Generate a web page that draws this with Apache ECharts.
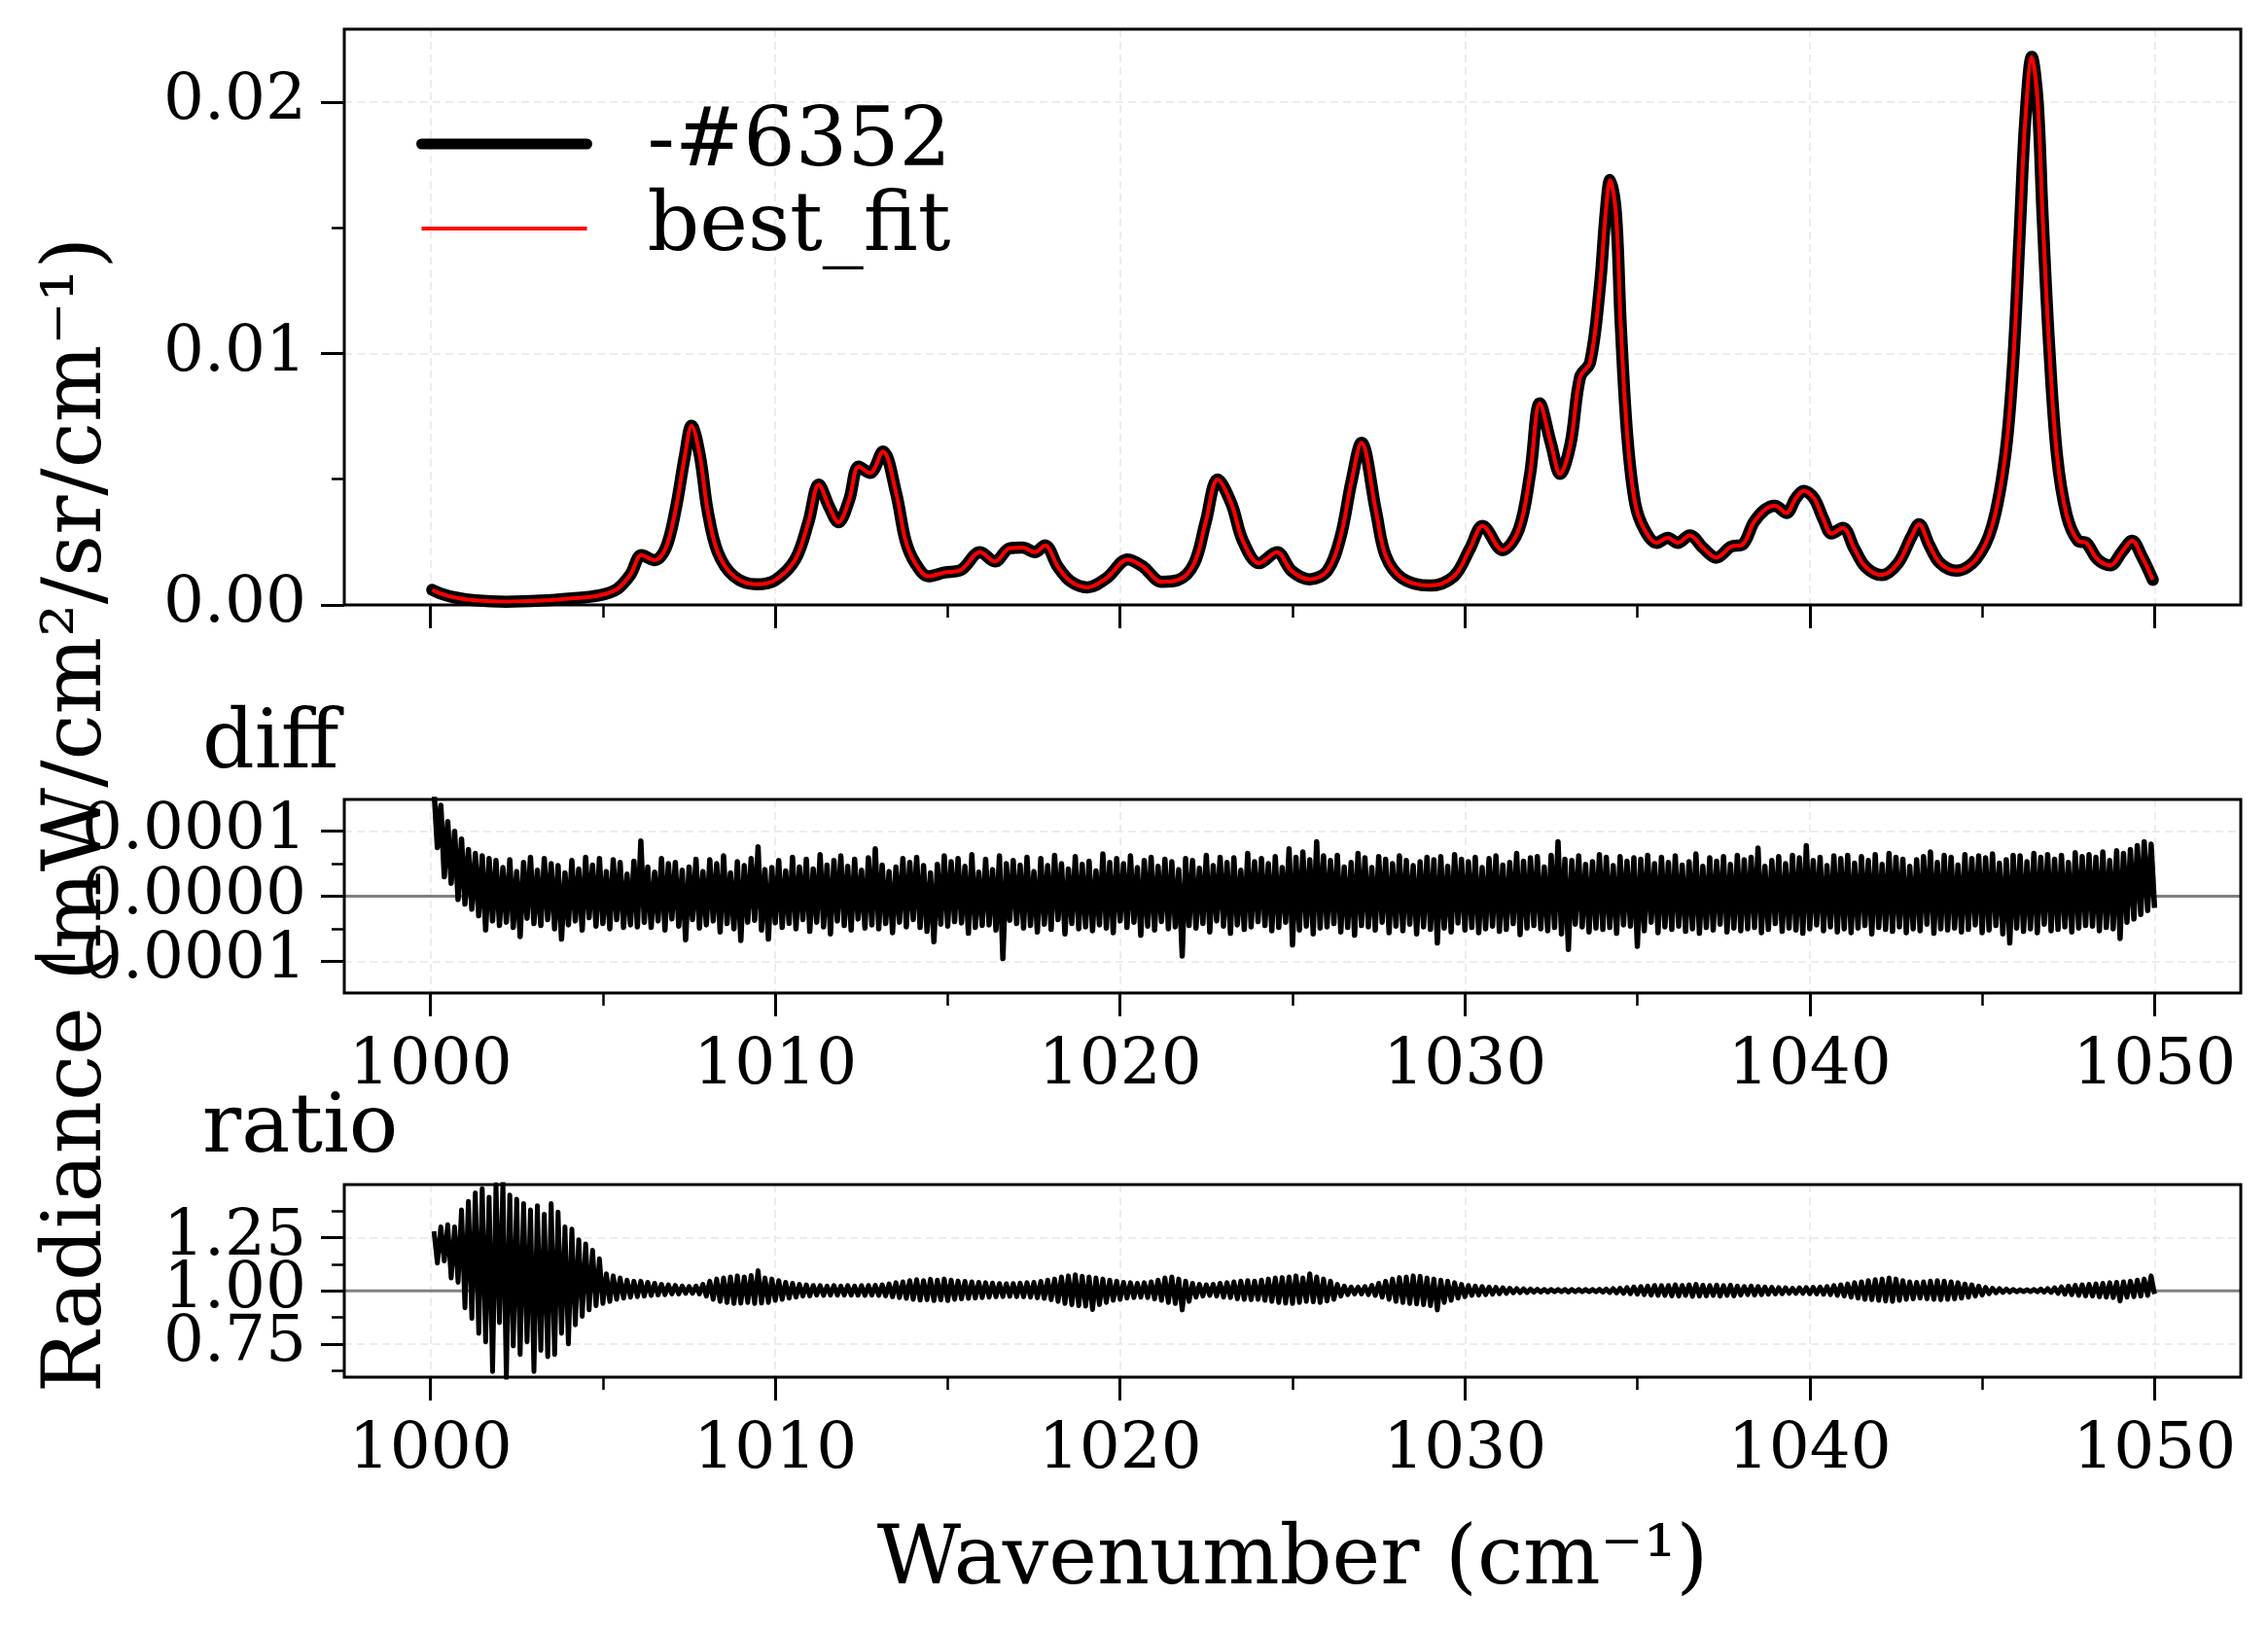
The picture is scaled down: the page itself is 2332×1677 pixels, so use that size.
<!DOCTYPE html>
<html>
<head>
<meta charset="utf-8">
<title>Radiance fit</title>
<script src="https://cdn.jsdelivr.net/npm/echarts@6/dist/echarts.min.js"></script>
<style>
  html, body { margin: 0; padding: 0; background: #fff; }
  #chart { width: 2332px; height: 1677px; }
</style>
</head>
<body>
<div id="chart"></div>
<script>
// top panel (radiance in 1e-3 mW/cm2/sr/cm-1)
const wavenumber = [
  1000.05, 1000.3, 1000.7, 1001.3, 1002.2, 1003.2, 1004.1, 1004.85, 1005.4, 1005.8,
  1006.12, 1006.5, 1006.82, 1007.1, 1007.38, 1007.57, 1007.81, 1008.04, 1008.33, 1008.8,
  1009.45, 1010.0, 1010.58, 1010.96, 1011.26, 1011.57, 1011.83, 1012.14, 1012.42, 1012.75,
  1013.12, 1013.5, 1013.78, 1014.06, 1014.44, 1014.91, 1015.38, 1015.94, 1016.37, 1016.79,
  1017.17, 1017.53, 1017.82, 1018.2, 1018.58, 1019.05, 1019.61, 1020.22, 1020.65, 1021.21,
  1021.68, 1022.15, 1022.48, 1022.83, 1023.23, 1023.56, 1024.03, 1024.55, 1024.97, 1025.49,
  1026.01, 1026.39, 1026.71, 1027.0, 1027.42, 1027.7, 1028.17, 1028.97, 1029.68, 1030.15,
  1030.51, 1031.09, 1031.56, 1031.89, 1032.17, 1032.5, 1032.76, 1033.06, 1033.34, 1033.63,
  1033.91, 1034.08, 1034.21, 1034.38, 1034.52, 1034.71, 1034.94, 1035.21, 1035.56, 1035.88,
  1036.17, 1036.52, 1036.92, 1037.29, 1037.72, 1038.05, 1038.38, 1038.71, 1038.99, 1039.32,
  1039.6, 1039.82, 1040.12, 1040.4, 1040.63, 1040.96, 1041.29, 1041.62, 1042.09, 1042.56,
  1042.94, 1043.17, 1043.46, 1043.78, 1044.26, 1044.82, 1045.29, 1045.67, 1045.9, 1046.09,
  1046.25, 1046.44, 1046.61, 1046.75, 1046.94, 1047.17, 1047.45, 1047.78, 1048.02, 1048.35,
  1048.72, 1049.05, 1049.35, 1049.62, 1049.95
];
const radianceMilli = [
  0.60, 0.45, 0.30, 0.18, 0.13, 0.17, 0.26, 0.37, 0.62, 1.21,
  1.98, 1.78, 2.25, 3.73, 5.95, 7.13, 5.95, 3.73, 2.10, 1.14,
  0.82, 0.99, 1.81, 3.29, 4.79, 3.88, 3.29, 4.17, 5.50, 5.25,
  6.10, 4.47, 2.55, 1.66, 1.14, 1.29, 1.39, 2.10, 1.73, 2.25,
  2.28, 2.10, 2.37, 1.51, 0.92, 0.70, 1.07, 1.81, 1.54, 0.92,
  0.99, 1.66, 3.29, 4.99, 4.02, 2.55, 1.66, 2.10, 1.36, 1.02,
  1.36, 2.69, 4.91, 6.45, 3.73, 1.96, 1.07, 0.77, 1.14, 2.25,
  3.14, 2.18, 2.99, 5.21, 8.02, 6.39, 5.21, 6.39, 9.06, 9.65,
  12.61, 15.57, 16.90, 15.57, 11.12, 6.69, 4.02, 2.99, 2.47, 2.67,
  2.47, 2.77, 2.25, 1.88, 2.32, 2.40, 3.29, 3.80, 3.95, 3.66,
  4.25, 4.54, 4.25, 3.40, 2.84, 3.07, 2.25, 1.51, 1.19, 1.66,
  2.69, 3.21, 2.40, 1.66, 1.36, 1.81, 3.14, 5.95, 9.65, 14.82,
  19.26, 21.80, 20.00, 15.57, 10.39, 5.95, 3.58, 2.55, 2.47, 1.81,
  1.58, 2.10, 2.55, 1.96, 1.00
];
// the fit sits on top of the measurement at this scale
const bestFitMilli = radianceMilli.slice();

// lower panels: one value every 0.1 cm-1 from 1000.1
const noiseStart = 1000.1;
const noiseStep = 0.1;
// diff in 1e-6 units
const diffMicro = [
  165, 75, 140, 30, 115, 20, 100, -5, 88, -12,
  72, -20, 66, -30, 62, -52, 58, -38, 55, -45,
  44, -40, 56, -48, 38, -62, 52, -34, 60, -42,
  40, -45, 58, -36, 50, -50, 47, -66, 36, -44,
  55, -38, 42, -52, 60, -33, 48, -46, 58, -42,
  38, -50, 56, -36, 52, -48, 34, -44, 54, -47,
  85, -40, 45, -48, 37, -38, 58, -52, 50, -35,
  52, -46, 40, -67, 45, -36, 57, -49, 38, -44,
  56, -38, 50, -55, 62, -42, 36, -50, 53, -68,
  47, -40, 58, -37, 76, -52, 41, -66, 44, -41,
  55, -48, 39, -42, 60, -50, 45, -36, 57, -54,
  42, -40, 64, -47, 48, -58, 55, -38, 62, -45,
  46, -52, 57, -35, 40, -49, 59, -44, 73, -50,
  48, -42, 38, -56, 45, -40, 58, -47, 52, -36,
  60, -48, 47, -54, 36, -70, 49, -43, 62, -46,
  53, -39, 58, -41, 46, -57, 64, -48, 37, -45,
  57, -44, 41, -52, 62, -96, 50, -37, 55, -42,
  48, -49, 60, -45, 38, -55, 58, -43, 47, -51,
  63, -36, 50, -58, 42, -42, 61, -50, 49, -47,
  54, -53, 39, -44, 65, -49, 52, -56, 58, -38,
  50, -48, 62, -40, 44, -60, 55, -46, 60, -52,
  46, -39, 57, -50, 53, -47, 41, -92, 58, -45,
  55, -49, 43, -42, 63, -55, 47, -38, 60, -46,
  52, -57, 59, -44, 40, -51, 66, -47, 53, -39,
  58, -45, 50, -53, 61, -48, 44, -40, 73, -75,
  60, -52, 68, -46, 56, -58, 84, -49, 62, -47,
  55, -42, 63, -55, 45, -48, 52, -60, 66, -45,
  59, -47, 44, -52, 61, -40, 57, -56, 50, -46,
  62, -53, 55, -43, 47, -58, 53, -47, 60, -51,
  56, -72, 61, -49, 46, -55, 64, -41, 57, -52,
  53, -48, 60, -56, 44, -50, 58, -46, 62, -54,
  48, -51, 52, -42, 66, -59, 54, -49, 59, -45,
  61, -50, 45, -53, 63, -48, 84, -58, 57, -82,
  55, -43, 62, -47, 49, -55, 53, -49, 64, -51,
  60, -48, 47, -57, 61, -44, 54, -46, 59, -77,
  57, -53, 63, -40, 50, -56, 60, -47, 52, -51,
  62, -46, 48, -54, 53, -50, 65, -57, 46, -48,
  59, -52, 54, -43, 61, -55, 49, -49, 63, -53,
  56, -50, 60, -48, 74, -56, 46, -51, 55, -42,
  61, -54, 50, -49, 63, -52, 59, -57, 78, -50,
  55, -44, 60, -53, 47, -47, 62, -55, 58, -50,
  63, -56, 51, -49, 61, -45, 55, -58, 64, -48,
  49, -51, 66, -54, 60, -47, 57, -56, 46, -50,
  56, -53, 61, -43, 68, -57, 52, -50, 63, -52,
  60, -49, 48, -55, 64, -51, 58, -44, 62, -56,
  59, -52, 65, -45, 51, -58, 56, -72, 63, -49,
  62, -54, 53, -50, 66, -56, 60, -43, 64, -53,
  57, -51, 63, -47, 52, -55, 67, -49, 61, -45,
  64, -46, 60, -53, 68, -48, 55, -50, 70, -65,
  66, -40, 72, -35, 78, -28, 84, -22, 80, -18
];
// ratio as (ratio - 1) in 1e-3 units
const ratioPermil = [
  280, 130, 300, 140, 310, 60, 300, 40, 380, -80,
  420, -130, 460, -200, 480, -240, 440, -380, 500, -150,
  510, -410, 450, -260, 430, -300, 410, -240, 380, -380,
  400, -280, 360, -310, 410, -300, 370, -200, 300, -250,
  290, -160, 240, -120, 220, -90, 190, -70, 150, -60,
  80, -50, 70, -40, 60, -35, 50, -30, 45, -28,
  45, -25, 40, -22, 35, -20, 30, -18, 28, -15,
  25, -15, 22, -12, 20, -12, 22, -15, 30, -25,
  45, -40, 55, -50, 60, -55, 65, -60, 70, -58,
  65, -55, 72, -60, 95, -58, 60, -55, 55, -45,
  48, -40, 40, -35, 35, -30, 30, -25, 28, -24,
  25, -20, 24, -22, 22, -20, 24, -21, 22, -20,
  24, -20, 22, -21, 24, -22, 25, -20, 26, -22,
  28, -24, 32, -28, 38, -32, 42, -36, 48, -40,
  52, -44, 48, -42, 54, -46, 50, -43, 55, -46,
  50, -40, 46, -38, 44, -36, 42, -34, 40, -32,
  38, -30, 36, -28, 34, -27, 33, -26, 34, -27,
  36, -28, 38, -30, 40, -33, 44, -36, 50, -42,
  55, -50, 65, -60, 70, -65, 75, -70, 68, -72,
  65, -88, 60, -65, 55, -55, 50, -45, 45, -40,
  40, -35, 38, -32, 35, -30, 38, -32, 42, -38,
  50, -45, 60, -55, 65, -60, 55, -90, 45, -50,
  35, -30, 30, -25, 28, -22, 30, -25, 35, -30,
  38, -32, 42, -38, 45, -40, 48, -42, 45, -40,
  50, -45, 55, -50, 60, -55, 62, -58, 65, -60,
  70, -55, 60, -50, 80, -52, 65, -55, 55, -48,
  45, -40, 30, -25, 22, -18, 18, -15, 18, -15,
  20, -18, 25, -22, 35, -30, 45, -40, 55, -50,
  62, -55, 65, -60, 70, -62, 68, -65, 60, -70,
  55, -90, 50, -55, 45, -45, 38, -35, 30, -28,
  25, -22, 22, -20, 20, -18, 18, -16, 16, -14,
  14, -12, 12, -10, 10, -9, 9, -8, 8, -7,
  7, -6, 6, -6, 6, -5, 6, -5, 6, -6,
  6, -5, 6, -5, 6, -5, 6, -5, 7, -6,
  8, -8, 10, -10, 12, -12, 15, -14, 18, -16,
  20, -18, 22, -20, 25, -22, 24, -22, 25, -24,
  28, -25, 25, -22, 28, -26, 30, -25, 26, -24,
  25, -22, 27, -25, 24, -22, 26, -24, 22, -20,
  20, -18, 22, -20, 20, -18, 18, -16, 16, -15,
  15, -14, 14, -12, 12, -12, 14, -12, 15, -14,
  16, -15, 18, -16, 20, -18, 24, -22, 28, -25,
  32, -30, 38, -35, 42, -40, 48, -42, 52, -45,
  55, -48, 60, -50, 55, -45, 48, -40, 42, -38,
  40, -35, 42, -38, 45, -40, 48, -42, 45, -40,
  42, -38, 38, -35, 32, -30, 28, -25, 22, -20,
  16, -14, 12, -10, 10, -8, 8, -6, 6, -5,
  5, -4, 5, -4, 6, -5, 8, -6, 10, -8,
  14, -12, 18, -16, 22, -18, 25, -22, 28, -24,
  30, -25, 32, -28, 35, -30, 38, -32, 40, -48,
  42, -30, 45, -28, 50, -25, 55, -22, 70, -15
];

const xTicks = [1000, 1010, 1020, 1030, 1040, 1050];
const xMinorTicks = [1005, 1015, 1025, 1035, 1045];
const radianceTicks = [0, 0.01, 0.02];
const radianceMinorTicks = [0.005, 0.015];
const diffTicks = [-0.0001, 0, 0.0001];
const diffMinorTicks = [-0.00005, 0.00005];
const ratioTicks = [0.75, 1.0, 1.25];
const ratioMinorTicks = [0.625, 0.875, 1.125, 1.375];

const FONT = "DejaVu Serif";
const X_MIN = 997.5, X_MAX = 1052.5;
const ranges = [[0, 0.0229], [-0.000149, 0.000149], [0.594, 1.499]];

const gridStyle = { color: "#e6e6e6", width: 1.5, type: [8, 5] };

function mainX(grid, labels, name) {
  const ax = {
    type: "value", gridIndex: grid, min: X_MIN, max: X_MAX, position: "bottom",
    axisLine: { show: false, onZero: false },
    axisTick: { show: true, customValues: xTicks, length: 24, lineStyle: { color: "#000", width: 3 } },
    axisLabel: { show: labels, customValues: xTicks, margin: 43, hideOverlap: false,
      showMinLabel: true, showMaxLabel: true,
      fontFamily: FONT, fontSize: 66, color: "#000", formatter: v => String(v) },
    splitLine: { show: true, lineStyle: gridStyle }
  };
  if (name) {
    ax.name = name;
    ax.nameLocation = "middle";
    ax.nameGap = 148;
    ax.nameTextStyle = { fontFamily: FONT, fontSize: 84, color: "#000" };
  }
  return ax;
}
function minorX(grid) {
  return {
    type: "value", gridIndex: grid, min: X_MIN, max: X_MAX, position: "bottom",
    axisLine: { show: false, onZero: false },
    axisTick: { show: true, customValues: xMinorTicks, length: 13, lineStyle: { color: "#000", width: 2.5 } },
    axisLabel: { show: false }, splitLine: { show: false }
  };
}
function yLabel(values, fmt) {
  return {
    show: true, customValues: values, margin: 39, hideOverlap: false,
    showMinLabel: true, showMaxLabel: true,
    fontFamily: FONT, fontSize: 66, lineHeight: 40, color: "#000", formatter: fmt
  };
}
function mainY(grid, ticks, labelValues, fmt) {
  return {
    type: "value", gridIndex: grid, min: ranges[grid][0], max: ranges[grid][1], position: "left",
    axisLine: { show: false, onZero: false },
    axisTick: { show: true, customValues: ticks, length: 24, lineStyle: { color: "#000", width: 3 } },
    axisLabel: yLabel(labelValues, fmt),
    splitLine: { show: true, lineStyle: gridStyle }
  };
}
// second axis per panel: minor ticks, plus any label the first axis would drop as overlapping
function minorY(grid, ticks, labelValues, fmt) {
  return {
    type: "value", gridIndex: grid, min: ranges[grid][0], max: ranges[grid][1], position: "left",
    axisLine: { show: false, onZero: false },
    axisTick: { show: true, customValues: ticks, length: 13, lineStyle: { color: "#000", width: 2.5 } },
    axisLabel: labelValues ? yLabel(labelValues, fmt) : { show: false },
    splitLine: { show: false }
  };
}

const spectrum = wavenumber.map((w, i) => [w, radianceMilli[i] / 1000]);
const fit = wavenumber.map((w, i) => [w, bestFitMilli[i] / 1000]);
const noiseX = i => +(noiseStart + i * noiseStep).toFixed(2);
const diffData = diffMicro.map((v, i) => [noiseX(i), v * 1e-6]);
const ratioData = ratioPermil.map((v, i) => [noiseX(i), 1 + v / 1000]);

const fmt2 = v => v.toFixed(2);
const fmtDiff = v => v.toFixed(4).replace("-", "\u2212");

// frame drawn above grid lines, like the spines
const frame = { show: true, z: 10, borderColor: "#000", borderWidth: 3, backgroundColor: "transparent" };

const option = {
  animation: false,
  backgroundColor: "#fff",
  textStyle: { fontFamily: FONT },
  grid: [
    Object.assign({ left: 354, right: 28, top: 30, height: 592 }, frame),
    Object.assign({ left: 354, right: 28, top: 822, height: 199 }, frame),
    Object.assign({ left: 354, right: 28, top: 1218, height: 198 }, frame)
  ],
  title: [
    { text: "diff", left: 208, top: 725, padding: 0,
      textStyle: { fontFamily: FONT, fontSize: 84, fontWeight: "normal", color: "#000" } },
    { text: "ratio", left: 208, top: 1120, padding: 0,
      textStyle: { fontFamily: FONT, fontSize: 84, fontWeight: "normal", color: "#000" } }
  ],
  legend: {
    orient: "vertical", left: 428, top: 106, padding: 0, itemGap: 3,
    itemWidth: 170, itemHeight: 20, selectedMode: false,
    textStyle: { fontFamily: FONT, fontSize: 84, color: "#000", padding: [0, 0, 0, 57] },
    data: [
      { name: "-#6352", lineStyle: { width: 11, color: "#000", cap: "round" }, itemStyle: { opacity: 0 } },
      { name: "best_fit", lineStyle: { width: 4, color: "#f00" }, itemStyle: { opacity: 0 } }
    ]
  },
  xAxis: [
    mainX(0, false), mainX(1, true), mainX(2, true, "Wavenumber (cm\u207B\u00B9)"),
    minorX(0), minorX(1), minorX(2)
  ],
  yAxis: [
    mainY(0, radianceTicks, radianceTicks, fmt2),
    mainY(1, diffTicks, diffTicks, fmtDiff),
    mainY(2, ratioTicks, [ratioTicks[0], ratioTicks[2]], fmt2),
    minorY(0, radianceMinorTicks),
    minorY(1, diffMinorTicks),
    minorY(2, ratioMinorTicks, [ratioTicks[1]], fmt2)
  ],
  graphic: [
    {
      type: "text", x: 81, y: 838, rotation: Math.PI / 2,
      style: {
        text: "Radiance (mW/cm\u00B2/sr/cm\u207B\u00B9)", fontFamily: FONT, fontSize: 84,
        fill: "#000", align: "center", verticalAlign: "middle"
      }
    }
  ],
  series: [
    { name: "-#6352", type: "line", xAxisIndex: 0, yAxisIndex: 0, data: spectrum,
      symbol: "none", smooth: 0.35, z: 2,
      lineStyle: { color: "#000", width: 12.5, cap: "round", join: "round" } },
    { name: "best_fit", type: "line", xAxisIndex: 0, yAxisIndex: 0, data: fit,
      symbol: "none", smooth: 0.35, z: 3,
      lineStyle: { color: "#f00", width: 4, join: "round" } },
    { name: "diff zero", type: "line", xAxisIndex: 1, yAxisIndex: 1, data: [[X_MIN, 0], [X_MAX, 0]],
      symbol: "none", z: 1, lineStyle: { color: "#808080", width: 3 } },
    { name: "diff", type: "line", xAxisIndex: 1, yAxisIndex: 1, data: diffData,
      symbol: "none", z: 2, lineStyle: { color: "#000", width: 5.5, join: "round" } },
    { name: "ratio one", type: "line", xAxisIndex: 2, yAxisIndex: 2, data: [[X_MIN, 1], [X_MAX, 1]],
      symbol: "none", z: 1, lineStyle: { color: "#808080", width: 3 } },
    { name: "ratio", type: "line", xAxisIndex: 2, yAxisIndex: 2, data: ratioData,
      symbol: "none", z: 2, lineStyle: { color: "#000", width: 5, join: "round" } }
  ]
};

const chart = echarts.init(document.getElementById("chart"));
chart.setOption(option);
</script>
</body>
</html>
